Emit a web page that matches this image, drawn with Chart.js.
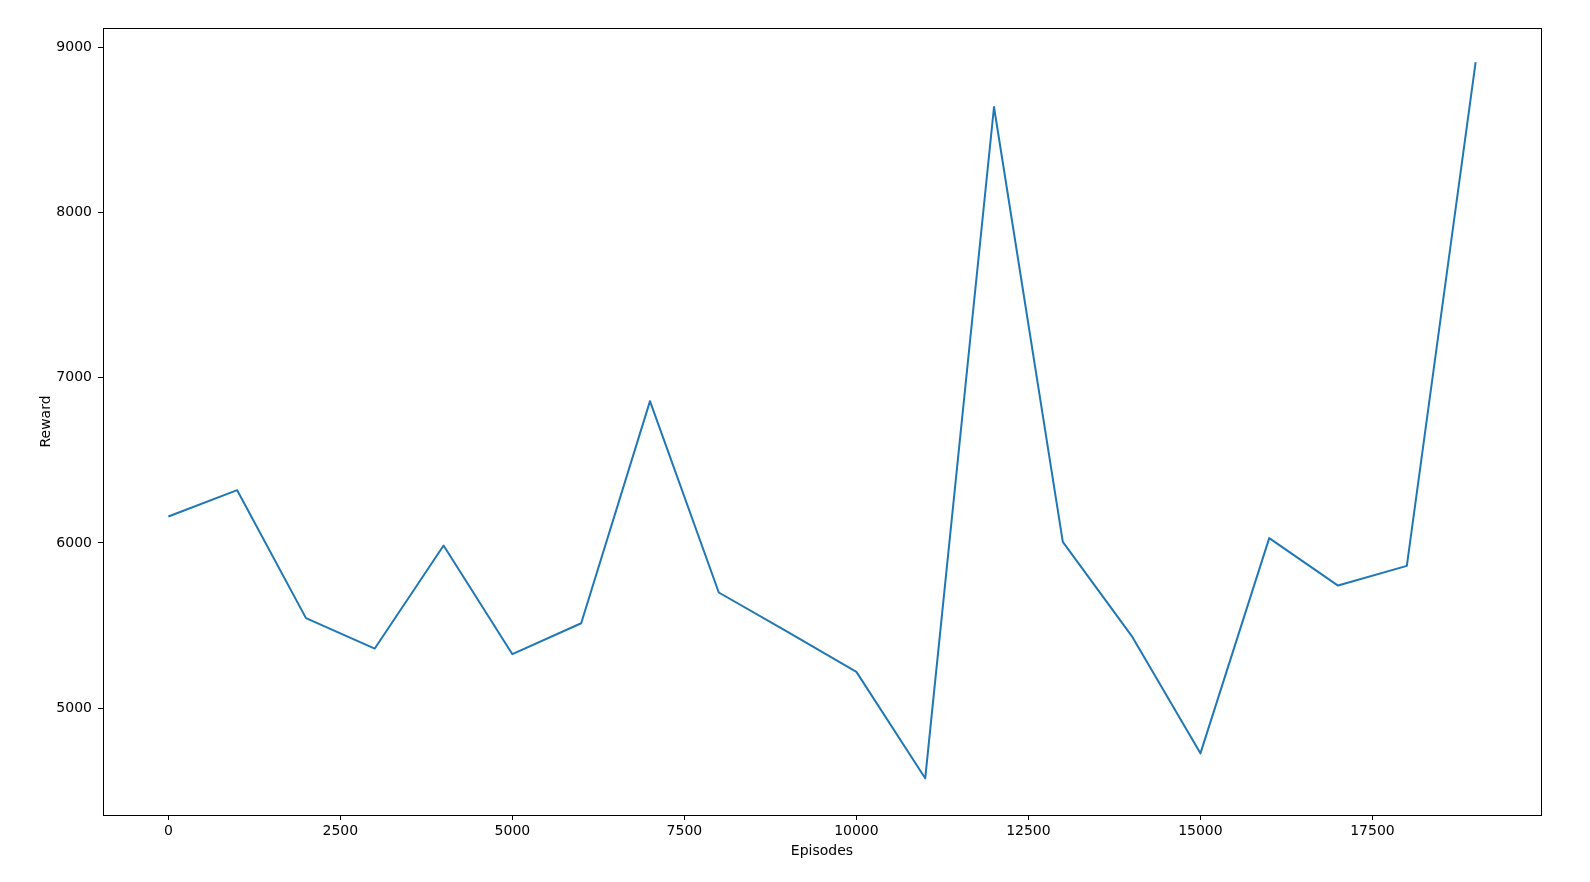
<!DOCTYPE html>
<html lang="en">
<head>
    <meta charset="UTF-8">
    <title>Reward per Episodes</title>
    <script src="https://cdn.jsdelivr.net/npm/chart.js"></script>
    <style>
        body { margin: 0; background: #fff; }
    </style>
</head>
<body>
    <canvas id="rewardChart" width="1590" height="882"></canvas>

    <script>
        // Data
        const episodes = [0, 1000, 2000, 3000, 4000, 5000, 6000, 7000, 8000, 9000,
                          10000, 11000, 12000, 13000, 14000, 15000, 16000, 17000, 18000, 19000];
        const rewards = [6160, 6319, 5545, 5361, 5984, 5327, 5514, 6858, 5700, 5462,
                         5220, 4576, 8637, 6006, 5438, 4727, 6029, 5742, 5861, 8909];
        const xTicks = [0, 2500, 5000, 7500, 10000, 12500, 15000, 17500];
        const yTicks = [5000, 6000, 7000, 8000, 9000];

        const font = { family: 'DejaVu Sans', size: 14 };

        // box around the plot area, like a matplotlib frame
        const frame = {
            id: 'frame',
            afterDraw(chart) {
                const { ctx, chartArea: a } = chart;
                const l = Math.round(a.left) + 0.5, t = Math.round(a.top) + 0.5;
                const r = Math.round(a.right) + 0.5, b = Math.round(a.bottom) + 0.5;
                ctx.save();
                ctx.strokeStyle = '#000';
                ctx.lineWidth = 1;
                ctx.strokeRect(l, t, r - l, b - t);
                ctx.restore();
            }
        };

        const ctx = document.getElementById('rewardChart').getContext('2d');
        new Chart(ctx, {
            type: 'line',
            data: {
                datasets: [{
                    label: 'Reward',
                    data: episodes.map((e, i) => ({ x: e, y: rewards[i] })),
                    borderColor: '#1f77b4',
                    borderWidth: 2,
                    borderJoinStyle: 'round',
                    pointRadius: 0,
                    tension: 0,
                    fill: false
                }]
            },
            options: {
                responsive: false,
                animation: false,
                layout: { padding: { top: 28, right: 49, left: 0, bottom: 0 } },
                plugins: { legend: { display: false }, tooltip: { enabled: false } },
                scales: {
                    x: {
                        type: 'linear',
                        min: -950,
                        max: 19950,
                        afterBuildTicks: s => { s.ticks = xTicks.map(v => ({ value: v })); },
                        afterFit: s => { s.height = 67; },
                        grid: { drawOnChartArea: false, drawTicks: true, tickLength: 5, color: '#000' },
                        border: { display: false },
                        ticks: { color: '#000', font: font, padding: 3, maxRotation: 0, callback: v => String(v) },
                        title: { display: true, text: 'Episodes', color: '#000', font: font, padding: { top: 0, bottom: 22 } }
                    },
                    y: {
                        min: 4354,
                        max: 9115,
                        afterBuildTicks: s => { s.ticks = yTicks.map(v => ({ value: v })); },
                        afterFit: s => { s.width = 103; },
                        grid: { drawOnChartArea: false, drawTicks: true, tickLength: 5, color: '#000' },
                        border: { display: false },
                        ticks: { color: '#000', font: font, padding: 6, callback: v => String(v) },
                        title: { display: true, text: 'Reward', color: '#000', font: font, padding: { top: 38, bottom: 0 } }
                    }
                }
            },
            plugins: [frame]
        });
    </script>
</body>
</html>
